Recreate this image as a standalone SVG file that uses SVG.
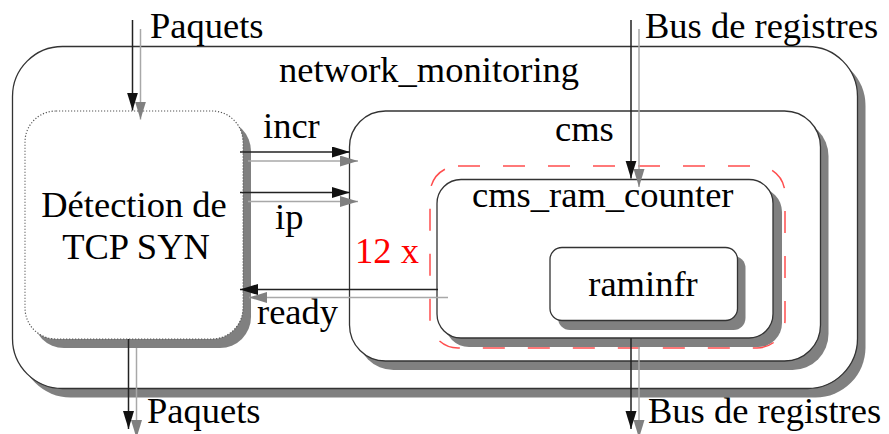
<svg xmlns="http://www.w3.org/2000/svg" width="889" height="434" viewBox="0 0 889 434">
  <defs>
    <marker id="head" markerUnits="userSpaceOnUse" markerWidth="19" markerHeight="12" refX="18" refY="5.5" orient="auto">
      <path d="M0,0 L18,5.5 L0,11 z" fill="#111"/>
    </marker>
    <marker id="headShadow" markerUnits="userSpaceOnUse" markerWidth="19" markerHeight="12" refX="18" refY="5.5" orient="auto">
      <path d="M0,0 L18,5.5 L0,11 z" fill="#808080"/>
    </marker>
  </defs>
  <style>
    text { font-family: "Liberation Serif", "Times New Roman", serif; font-size: 36.5px; }
    .shadow { fill: #808080; stroke: none; }
    .box { fill: #fff; stroke: #333; stroke-width: 1.3; }
    .dotted { fill: #fff; stroke: #555; stroke-width: 1.2; stroke-dasharray: 1.2 1.8; }
    .group { fill: none; stroke: #ff4d4d; stroke-width: 1.5; stroke-dasharray: 22 23; }
    .wire { stroke: #222; stroke-width: 1.5; fill: none; marker-end: url(#head); }
    .wireShadow { stroke: #a8a8a8; stroke-width: 1.5; fill: none; marker-end: url(#headShadow); }
    .red { fill: #ff0000; }
  </style>

  <rect width="889" height="434" fill="#fff"/>

  <g font-family="Liberation Serif, serif" font-size="36.5">
  <!-- top-level module -->
  <g id="network_monitoring">
    <rect class="shadow" x="20.5" y="55.5" width="845" height="342" rx="50"/>
    <rect class="box" x="12.5" y="46.5" width="845" height="342" rx="50"/>
    <text x="279" y="82">network_monitoring</text>
  </g>

  <!-- SYN detector -->
  <g id="detection">
    <rect class="shadow" x="33" y="120" width="218" height="228" rx="31"/>
    <rect class="dotted" x="25" y="111" width="218" height="228" rx="31"/>
    <text x="134" y="217" text-anchor="middle">D&#233;tection de</text>
    <text x="136" y="259" text-anchor="middle">TCP SYN</text>
  </g>

  <!-- count-min sketch -->
  <g id="cms">
    <rect class="shadow" x="357.5" y="120" width="471" height="250" rx="36"/>
    <rect class="box" x="349.5" y="111" width="471" height="250" rx="36"/>
    <text x="555" y="141">cms</text>
    <text class="red" x="355" y="263">12 x</text>
  </g>

  <g id="cms_ram_counter">
    <rect class="shadow" x="445" y="188" width="337" height="159" rx="24"/>
    <rect class="box" x="437" y="179.5" width="336" height="158.5" rx="24"/>
    <text x="472" y="207">cms_ram_counter</text>
  </g>

  <g id="raminfr">
    <rect class="shadow" x="558" y="256" width="187.5" height="74" rx="12"/>
    <rect class="box" x="550" y="247.5" width="187.5" height="73" rx="12"/>
    <text x="643" y="296" text-anchor="middle">raminfr</text>
  </g>

  <!-- replication frame (12 instances) -->
  <g id="replication">
    <rect class="group" x="430" y="166" width="355" height="182" rx="28"/>
  </g>

  <!-- connectors: each wire with its drop shadow -->
  <g id="connectors">
    <!-- Paquets in -->
    <line class="wireShadow" x1="140.5" y1="29" x2="140.5" y2="119.5"/>
    <line class="wire" x1="132.5" y1="20" x2="132.5" y2="110.5"/>
    <!-- incr -->
    <line class="wireShadow" x1="248" y1="161" x2="358" y2="161"/>
    <line class="wire" x1="240" y1="152" x2="350" y2="152"/>
    <!-- ip -->
    <line class="wireShadow" x1="248" y1="201.5" x2="358" y2="201.5"/>
    <line class="wire" x1="240" y1="192.5" x2="350" y2="192.5"/>
    <!-- ready -->
    <line class="wireShadow" x1="448" y1="297.5" x2="249" y2="297.5"/>
    <line class="wire" x1="438" y1="289.5" x2="240" y2="289.5"/>
    <!-- Bus de registres in -->
    <line class="wireShadow" x1="639" y1="29" x2="639" y2="187"/>
    <line class="wire" x1="631" y1="20" x2="631" y2="178.5"/>
    <!-- Paquets out -->
    <line class="wireShadow" x1="136.5" y1="348" x2="136.5" y2="438"/>
    <line class="wire" x1="128.5" y1="339" x2="128.5" y2="429"/>
    <!-- Bus de registres out -->
    <line class="wireShadow" x1="639" y1="347" x2="639" y2="438"/>
    <line class="wire" x1="631" y1="338" x2="631" y2="429"/>
  </g>

  <!-- port labels -->
  <g id="labels">
    <text x="150" y="37.5">Paquets</text>
    <text x="645" y="37.5">Bus de registres</text>
    <text x="263" y="137.5">incr</text>
    <text x="275" y="229">ip</text>
    <text x="257" y="324">ready</text>
    <text x="147" y="423">Paquets</text>
    <text x="648" y="423">Bus de registres</text>
  </g>
  </g>
</svg>
